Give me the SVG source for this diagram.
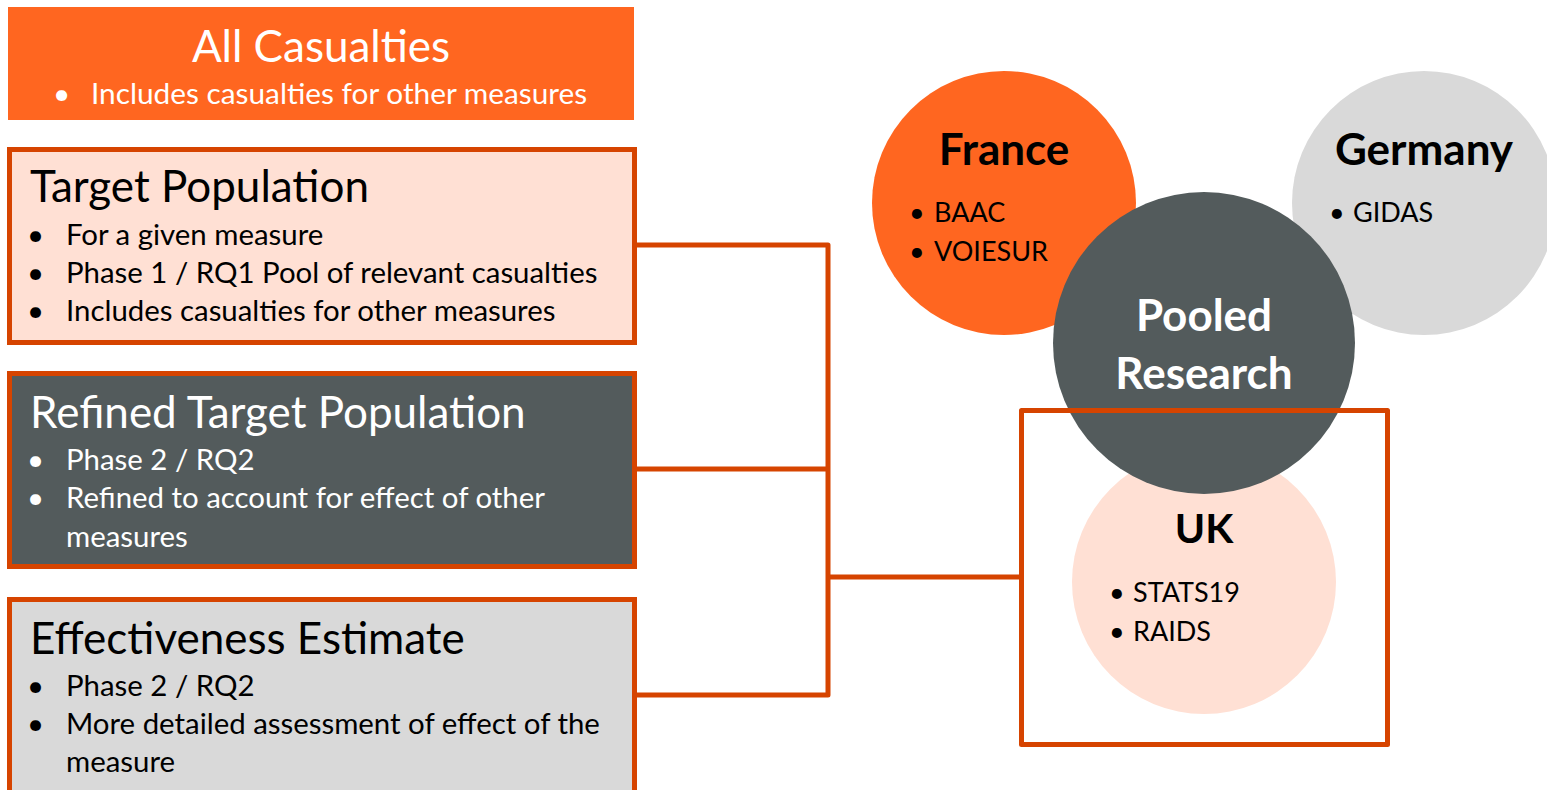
<svg xmlns="http://www.w3.org/2000/svg" width="1547" height="790" viewBox="0 0 1547 790">
  <style>
    text { font-family: Lato, "Liberation Sans", sans-serif; }
    .ttl { font-size: 44px; }
    .bul { font-size: 29.4px; }
    .ctl { font-size: 44px; font-weight: bold; text-anchor: middle; }
    .cbl { font-size: 27px; }
    .w { fill: #ffffff; }
    .k { fill: #000000; }
    .edge { fill: none; stroke: #D64400; stroke-width: 5; stroke-linejoin: round; }
  </style>

  <rect width="1547" height="790" fill="#ffffff"/>

  <!-- header banner -->
  <g id="all-casualties">
    <rect x="8" y="7" width="626" height="113" fill="#FF6620"/>
    <text class="ttl w" x="321" y="62" text-anchor="middle">All Casualties</text>
    <text class="bul w" x="53" y="104" style="font-size:29.8px">•</text>
    <text class="bul w" x="91" y="104" style="font-size:29.8px">Includes casualties for other measures</text>
  </g>

  <!-- connectors -->
  <g id="connectors" class="edge">
    <path d="M636 245 H828 V695 H636"/>
    <path d="M636 469 H828"/>
    <path d="M828 577 H1021"/>
  </g>

  <g id="target-population">
    <rect x="9.5" y="149.5" width="625" height="193" fill="#FFE0D4" stroke="#D64400" stroke-width="5"/>
    <text class="ttl k" x="30" y="202">Target Population</text>
    <text class="bul k" x="27" y="245">•</text>
    <text class="bul k" x="66" y="245">For a given measure</text>
    <text class="bul k" x="27" y="283">•</text>
    <text class="bul k" x="66" y="283">Phase 1 / RQ1 Pool of relevant casualties</text>
    <text class="bul k" x="27" y="321">•</text>
    <text class="bul k" x="66" y="321">Includes casualties for other measures</text>
  </g>

  <g id="refined-target-population">
    <rect x="9.5" y="373.5" width="625" height="193" fill="#535B5C" stroke="#D64400" stroke-width="5"/>
    <text class="ttl w" x="30" y="428">Refined Target Population</text>
    <text class="bul w" x="27" y="470">•</text>
    <text class="bul w" x="66" y="470">Phase 2 / RQ2</text>
    <text class="bul w" x="27" y="508">•</text>
    <text class="bul w" x="66" y="508">Refined to account for effect of other</text>
    <text class="bul w" x="66" y="547">measures</text>
  </g>

  <g id="effectiveness-estimate">
    <rect x="9.5" y="599.5" width="625" height="200" fill="#D9D9D9" stroke="#D64400" stroke-width="5"/>
    <text class="ttl k" x="30" y="654">Effectiveness Estimate</text>
    <text class="bul k" x="27" y="696">•</text>
    <text class="bul k" x="66" y="696">Phase 2 / RQ2</text>
    <text class="bul k" x="27" y="734">•</text>
    <text class="bul k" x="66" y="734">More detailed assessment of effect of the</text>
    <text class="bul k" x="66" y="772">measure</text>
  </g>

  <g id="france">
    <circle cx="1004" cy="203" r="132" fill="#FF6620"/>
    <text class="ctl k" x="1004" y="165">France</text>
    <text class="cbl k" x="909" y="222">•</text>
    <text class="cbl k" x="934" y="222">BAAC</text>
    <text class="cbl k" x="909" y="261">•</text>
    <text class="cbl k" x="934" y="261">VOIESUR</text>
  </g>

  <g id="germany">
    <circle cx="1424" cy="203" r="132" fill="#D9D9D9"/>
    <text class="ctl k" x="1424" y="165">Germany</text>
    <text class="cbl k" x="1329" y="222">•</text>
    <text class="cbl k" x="1353" y="222">GIDAS</text>
  </g>

  <g id="uk">
    <circle cx="1204" cy="582" r="132" fill="#FFE0D4"/>
    <text class="ctl k" x="1204" y="543" style="font-size:41px">UK</text>
    <text class="cbl k" x="1109" y="602">•</text>
    <text class="cbl k" x="1133" y="602">STATS19</text>
    <text class="cbl k" x="1109" y="641">•</text>
    <text class="cbl k" x="1133" y="641">RAIDS</text>
  </g>

  <g id="pooled-research">
    <circle cx="1204" cy="343" r="151" fill="#535B5C"/>
    <text class="ctl w" x="1204" y="331">Pooled</text>
    <text class="ctl w" x="1204" y="389">Research</text>
  </g>

  <!-- frame around the UK data source, drawn over the circles -->
  <g id="uk-frame">
    <rect x="1021.5" y="410.5" width="366" height="334" class="edge"/>
  </g>
</svg>
